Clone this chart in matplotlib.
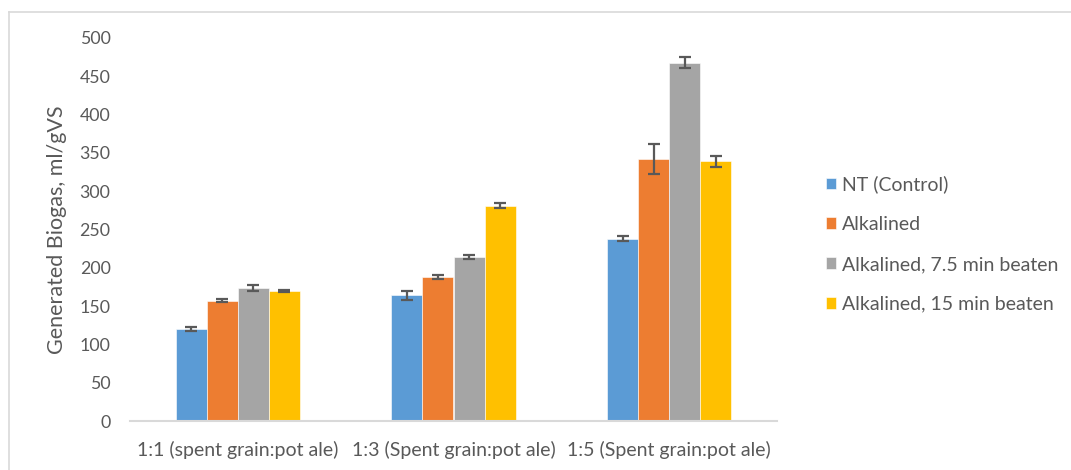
import matplotlib
matplotlib.use("Agg")
import matplotlib.pyplot as plt
import numpy as np
from matplotlib.lines import Line2D

categories = ["1:1 (spent grain:pot ale)", "1:3 (Spent grain:pot ale)", "1:5 (Spent grain:pot ale)"]
series_names = ["NT (Control)", "Alkalined", "Alkalined, 7.5 min beaten", "Alkalined, 15 min beaten"]
nt_control = [120, 164, 238]
alkalined = [157, 188, 342]
alk_7_5 = [174, 214, 468]
alk_15 = [170, 281, 339]
err_nt = [3, 5.5, 3.5]
err_alk = [2, 3, 19]
err_7_5 = [4, 3, 7]
err_15 = [1.5, 3, 7]
yticks = [0, 50, 100, 150, 200, 250, 300, 350, 400, 450, 500]

colors = ["#5B9BD5", "#ED7D31", "#A5A5A5", "#FFC000"]
txt = "#595959"
plt.rcParams['font.family'] = ['Lato', 'DejaVu Sans']

W, H = 1071, 470
fig = plt.figure(figsize=(W/100, H/100), dpi=100)
ax = fig.add_axes([130/W, 1-421/H, (777-130)/W, (421-38)/H])

values = [nt_control, alkalined, alk_7_5, alk_15]
errs = [err_nt, err_alk, err_7_5, err_15]
x = np.arange(len(categories))
bw = 0.144
handles = []
for i, (v, e, c, n) in enumerate(zip(values, errs, colors, series_names)):
    b = ax.bar(x + (i-1.5)*bw, v, bw, color=c, label=n, zorder=2, edgecolor='white', linewidth=0.4)
    ax.errorbar(x + (i-1.5)*bw, v, yerr=e, fmt='none', ecolor=txt, elinewidth=1.6, capsize=4.5, capthick=1.6, zorder=3)
    handles.append(b)

ax.set_xlim(-0.5, 2.5)
ax.set_ylim(0, 500)
ax.set_yticks(yticks)
ax.set_xticks(x)
ax.set_xticklabels(categories, fontsize=14)
for s in ['top', 'right', 'left']:
    ax.spines[s].set_visible(False)
ax.spines['bottom'].set_color('#D9D9D9')
ax.spines['bottom'].set_linewidth(1.5)
ax.tick_params(axis='both', length=0, colors=txt)
ax.tick_params(axis='y', pad=14, labelsize=12.8)
ax.tick_params(axis='x', pad=14)
ax.set_ylabel("Generated Biogas, ml/gVS", color=txt, fontsize=15.5, labelpad=9)

fig.legend(handles, series_names, loc='upper left', bbox_to_anchor=(808/W, 1-158/H),
           frameon=False, fontsize=14, labelcolor=txt, handlelength=0.55, handleheight=0.55,
           handletextpad=0.3, labelspacing=1.17)

fig.add_artist(Line2D([9/W, 1], [1-12/H, 1-12/H], color='#D9D9D9', linewidth=1.2, transform=fig.transFigure))
fig.add_artist(Line2D([9/W, 9/W], [0, 1-12/H], color='#D9D9D9', linewidth=1.2, transform=fig.transFigure))

fig.savefig("out.png", dpi=100)
